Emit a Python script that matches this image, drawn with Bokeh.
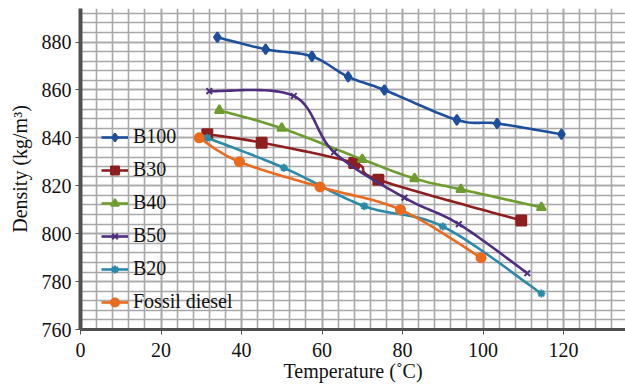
import numpy as np
from bokeh.plotting import figure
from bokeh.models import Range1d, FixedTicker, Legend, LegendItem
from bokeh.embed import file_html
from bokeh.resources import INLINE

# ---- data ----
temp_b100 = [34, 46, 57.5, 66.5, 75.5, 93.5, 103.5, 119.5]
dens_b100 = [882, 877, 874, 865.5, 860, 847.5, 846, 841.5]

temp_b30 = [31.5, 45, 68, 74, 109.5]
dens_b30 = [841.5, 838, 829.5, 822.5, 805.5]

temp_b40 = [34.5, 50, 70, 83, 94.5, 114.5]
dens_b40 = [851.5, 844, 831, 823, 818.5, 811]

temp_b50 = [32, 53, 63, 80.5, 94, 111]
dens_b50 = [859.5, 857.5, 834, 815, 804, 783.5]

temp_b20 = [31.5, 50.5, 70.5, 90, 114.5]
dens_b20 = [840, 827.5, 811.5, 803, 775]

temp_diesel = [29.5, 39.5, 59.5, 79.5, 99.5]
dens_diesel = [840, 830, 819.5, 810, 790]

series_names = ["B100", "B30", "B40", "B50", "B20", "Fossil diesel"]
x_ticks = [0, 20, 40, 60, 80, 100, 120]
y_ticks = [760, 780, 800, 820, 840, 860, 880]

X0, X1 = 0, 135.4
Y0, Y1 = 760, 894
W, H = 625, 387
BL, BR, BT, BB = 80, 0, 8, 58
sx = (W - BL - BR) / (X1 - X0)
sy = (H - BT - BB) / (Y1 - Y0)


def smooth(xs, ys, n=24):
    P = np.column_stack([np.asarray(xs, float) * sx, np.asarray(ys, float) * sy])
    out = []
    m = len(P)
    for i in range(m - 1):
        p0 = P[i - 1] if i > 0 else P[i]
        p1 = P[i]
        p2 = P[i + 1]
        p3 = P[i + 2] if i + 2 < m else P[i + 1]
        c1 = p1 + (p2 - p0) / 6.0
        c2 = p2 - (p3 - p1) / 6.0
        t = np.linspace(0, 1, n)[:, None]
        seg = ((1 - t) ** 3) * p1 + 3 * ((1 - t) ** 2) * t * c1 + 3 * (1 - t) * t ** 2 * c2 + t ** 3 * p2
        out.append(seg if i == 0 else seg[1:])
    S = np.vstack(out)
    return S[:, 0] / sx, S[:, 1] / sy


p = figure(width=W, height=H, x_range=Range1d(X0, X1), y_range=Range1d(Y0, Y1),
           output_backend="svg", toolbar_location=None,
           min_border_left=BL, min_border_right=BR, min_border_top=BT, min_border_bottom=BB)
p.outline_line_color = None
p.background_fill_color = "white"
p.border_fill_color = "white"

p.xaxis.ticker = FixedTicker(ticks=x_ticks, minor_ticks=list(range(0, 136, 4)))
p.yaxis.ticker = FixedTicker(ticks=y_ticks, minor_ticks=list(range(760, 895, 4)))

for g in (p.xgrid, p.ygrid):
    g.grid_line_color = "#a8a8a8"
    g.grid_line_width = 1.6
    g.minor_grid_line_color = "#a8a8a8"
    g.minor_grid_line_width = 1.6

font = "Liberation Serif"
for ax in (p.xaxis, p.yaxis):
    ax.axis_line_color = "#505050"
    ax.major_tick_line_color = "#505050"
    ax.major_tick_out = 5
    ax.major_tick_in = 0
    ax.minor_tick_line_color = None
    ax.major_label_text_font = font
    ax.major_label_text_font_size = "20px"
    ax.major_label_text_color = "#111111"
    ax.axis_label_text_font = font
    ax.axis_label_text_font_size = "20px"
    ax.axis_label_text_font_style = "normal"
    ax.axis_label_text_color = "#111111"
p.yaxis.axis_line_width = 4
p.xaxis.axis_line_width = 3
p.xaxis.major_label_standoff = 8
p.yaxis.major_label_standoff = 4
p.xaxis.axis_label = "Temperature (˚C)"
p.yaxis.axis_label = "Density (kg/m³)"
p.xaxis.axis_label_standoff = 0
p.yaxis.axis_label_standoff = 8

colors = ["#1d4f9c", "#8f1f1f", "#6d9d2e", "#4f2d7f", "#2b8aaa", "#ea6a1e"]
markers = ["diamond", "square", "triangle", "x", "asterisk", "circle"]
sizes = [10, 10, 9, 8, 8, 9]
data = [(temp_b100, dens_b100), (temp_b30, dens_b30), (temp_b40, dens_b40),
        (temp_b50, dens_b50), (temp_b20, dens_b20), (temp_diesel, dens_diesel)]

items = []
for name, (xs, ys), c, mk, sz in zip(series_names, data, colors, markers, sizes):
    lx, ly = smooth(xs, ys)
    r1 = p.line(lx, ly, line_color=c, line_width=2.6)
    r2 = p.scatter(xs, ys, marker=mk, size=sz, fill_color=c, line_color=c, line_width=2)
    items.append(LegendItem(label=name, renderers=[r1, r2]))

legend = Legend(items=items, location=(21, 16), glyph_width=27, glyph_height=20,
                label_height=20, spacing=10, padding=0, margin=0,
                background_fill_alpha=0, border_line_color=None,
                label_text_font=font, label_text_font_size="20px",
                label_text_color="#111111", label_standoff=5)
p.add_layout(legend)

open("out.html", "w").write(file_html(p, INLINE))
